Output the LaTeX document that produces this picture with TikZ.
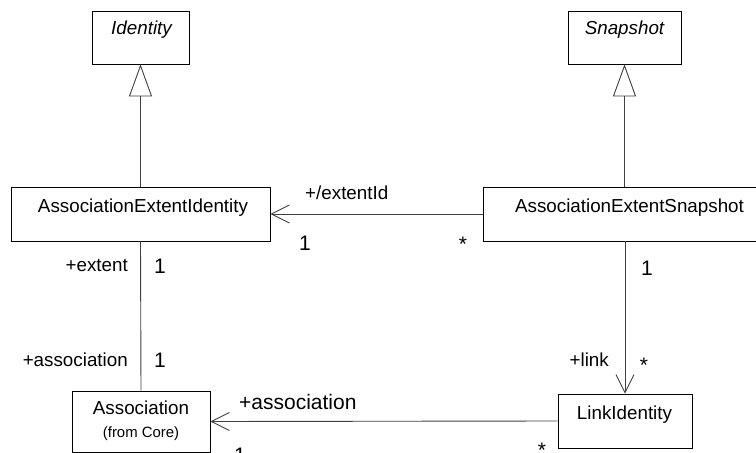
\documentclass[tikz,border=0pt]{standalone}
\usepackage{fontspec}
\setmainfont{Liberation Sans}
\usetikzlibrary{arrows.meta}
\begin{document}
\begin{tikzpicture}[x=1pt,y=-1pt,
  box/.style={draw=black,line width=0.8pt,inner sep=0pt,fill=white},
  txt/.style={inner sep=0pt,font=\fontsize{18.8}{22}\selectfont},
  mult/.style={inner sep=0pt,font=\fontsize{21}{24}\selectfont},
  small/.style={inner sep=0pt,font=\fontsize{14.9}{17}\selectfont},
  conn/.style={draw=black!75,line width=0.9pt},
  gen/.style={conn,-{Triangle[open,length=32pt,width=23pt,line width=0.9pt]}},
  nav/.style={conn,-{Straight Barb[length=18pt,width=18pt,line width=0.9pt]}}]
\useasboundingbox (0,0) rectangle (756,453);
\clip (0,0) rectangle (756,453);
\fill[white] (0,0) rectangle (756,453);
% boxes
\node[box,minimum width=97pt,minimum height=53pt] (id) at (140.5,37.5) {};
\node[box,minimum width=113pt,minimum height=53pt] (snap) at (624.5,37.5) {};
\node[box,minimum width=259pt,minimum height=54pt] (aei) at (140.5,214) {};
\node[box,minimum width=293pt,minimum height=54pt] (aes) at (629.5,214) {};
\node[box,minimum width=138pt,minimum height=61pt] (assoc) at (141,421.5) {};
\node[box,minimum width=134pt,minimum height=54pt] (li) at (625,421) {};
% box texts
\node[txt,anchor=base] (tid) at (141.5,34) {\itshape Identity};
\node[txt,anchor=base] (tsnap) at (624.5,34) {\itshape Snapshot};
\node[txt,anchor=base] (taei) at (143,212) {AssociationExtentIdentity};
\node[txt,anchor=base] (taes) at (629.5,212) {AssociationExtentSnapshot};
\node[txt,anchor=base] (tassoc) at (141,414) {Association};
\node[small,anchor=base] (tcore) at (141,437) {(from Core)};
\node[txt,anchor=base] (tli) at (624.5,419) {LinkIdentity};
% connectors
\draw[gen] (aei.north) -- (id.south);
\draw[gen] (snap.south |- aes.north) -- (snap.south);
\draw[nav] (aes.west) -- (aei.east);
\draw[conn] (aei.south) -- (assoc.north);
\draw[nav] (aes.south -| li.north) -- (li.north);
\draw[nav] (li.west) -- (assoc.east);
% labels
\node[txt,anchor=base west] (l1) at (305,199.5) {+/extentId};
\node[mult,anchor=base] (m1) at (305,250) {1};
\node[mult,anchor=base] (m2) at (463,251) {*};
\node[txt,anchor=base east] (l2) at (128,271) {+extent};
\node[mult,anchor=base] (m3) at (160,273) {1};
\node[txt,anchor=base east] (l3) at (128,366.5) {+association};
\node[mult,anchor=base] (m4) at (160,367) {1};
\node[mult,anchor=base west] (l4) at (239,409) {+association};
\node[mult,anchor=base] (m5) at (240,462) {1};
\node[mult,anchor=base] (m6) at (542,457) {*};
\node[mult,anchor=base] (m7) at (647,275) {1};
\node[txt,anchor=base east] (l5) at (609,366) {+link};
\node[mult,anchor=base] (m8) at (644,372) {*};
\end{tikzpicture}
\end{document}
